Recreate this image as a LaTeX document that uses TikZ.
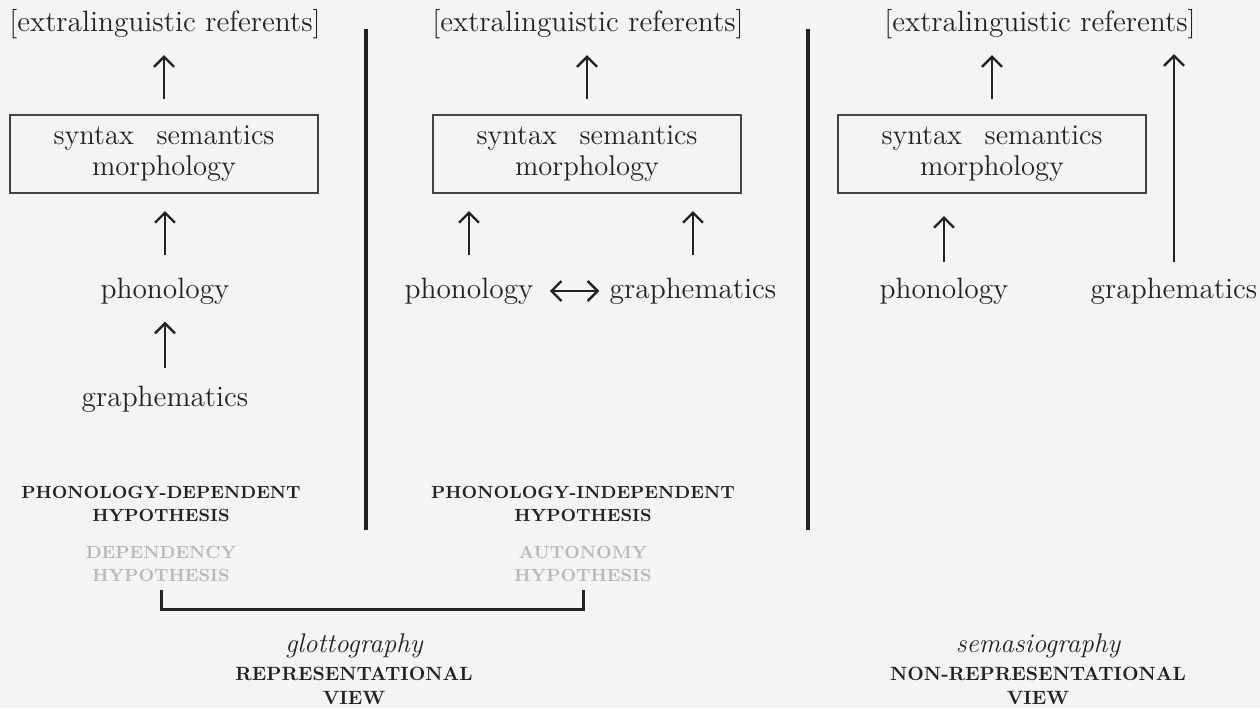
\documentclass[tikz,border=0pt]{standalone}
\usepackage{tikz}
\usetikzlibrary{arrows.meta,positioning,calc}
\definecolor{paper}{HTML}{F4F4F4}
\definecolor{ink}{HTML}{222222}

\begin{document}
\begin{tikzpicture}[
        x=0.5pt, y=-0.5pt,
        font=\fontsize{14.7}{15.5}\selectfont,
        % Stili
        term/.style={inner sep=0pt, text=ink, align=center},
        levelbox/.style={rectangle, draw=ink!85, line width=1pt, minimum width=154pt, minimum height=39pt, inner sep=0pt, text=ink, align=center, font=\fontsize{14.3}{15.5}\selectfont},
        hyp/.style={inner sep=0pt, text=ink, align=center, font=\fontsize{8.8}{11.5}\selectfont\bfseries},
        althyp/.style={hyp, text=gray!55},
        view/.style={inner sep=0pt, text=ink, align=center, font=\fontsize{9.6}{12}\selectfont\bfseries},
        viewname/.style={inner sep=0pt, text=ink, font=\fontsize{13.5}{15}\selectfont\itshape},
        uparrow/.style={draw=ink, line width=1.2pt, -{Straight Barb[length=5pt,width=10pt]}, shorten <=8pt, shorten >=8pt},
        bothways/.style={uparrow, {Straight Barb[length=5pt,width=10pt]}-{Straight Barb[length=5pt,width=10pt]}},
        divider/.style={draw=ink, line width=2pt},
        bracket/.style={draw=ink, line width=1.5pt}
    ]

    % Sfondo
    \fill[paper] (0,0) rectangle (1260,708);
    \useasboundingbox (0,0) rectangle (1260,708);

    % Colonna 1: dipendenza
    \node (ref1) [term] at (165,24) {[extralinguistic referents]};
    \node (box1) [levelbox] at (164,154) {syntax\hspace{0.8em}semantics\\morphology};
    \node (phon1) [term] at (165,291) {phonology};
    \node (graph1) [term] at (165,399) {graphematics};

    % Colonna 2: autonomia
    \node (ref2) [term] at (588,24) {[extralinguistic referents]};
    \node (box2) [levelbox] at (587,154) {syntax\hspace{0.8em}semantics\\morphology};
    \node (phon2) [term] at (469,291) {phonology};
    \node (graph2) [term] at (693,291) {graphematics};

    % Colonna 3: semasiografia
    \node (ref3) [term] at (1040,24) {[extralinguistic referents]};
    \node (box3) [levelbox] at (992,154) {syntax\hspace{0.8em}semantics\\morphology};
    \node (phon3) [term] at (944,291) {phonology};
    \node (graph3) [term] at (1174,291) {graphematics};

    % Separatori
    \draw [divider] (366,29) -- (366,530);
    \draw [divider] (808,29) -- (808,530);

    % Ipotesi
    \node (dep) [hyp] at (161,504) {PHONOLOGY-DEPENDENT\\HYPOTHESIS};
    \node (dephyp) [althyp] at (161,564) {DEPENDENCY\\HYPOTHESIS};
    \node (indep) [hyp] at (583,504) {PHONOLOGY-INDEPENDENT\\HYPOTHESIS};
    \node (autohyp) [althyp] at (583,564) {AUTONOMY\\HYPOTHESIS};

    % Viste
    \node (reprview) [view] at (354,686) {REPRESENTATIONAL\\VIEW};
    \node (glotto) [viewname, above=4pt of reprview] {glottography};
    \node (nonreprview) [view] at (1038,686) {NON-REPRESENTATIONAL\\VIEW};
    \node (sema) [viewname, above=4pt of nonreprview] {semasiography};

    % Collegamenti
    \draw [uparrow, shorten <=7.5pt] (box1.north) -- (box1.north |- ref1.south);
    \draw [uparrow, shorten <=11pt, shorten >=8.5pt] (phon1.north) -- (phon1.north |- box1.south);
    \draw [uparrow, shorten <=8.5pt, shorten >=8.5pt] (graph1.north) -- (phon1.south);

    \draw [uparrow, shorten <=7.5pt] (box2.north) -- (box2.north |- ref2.south);
    \draw [uparrow, shorten <=11pt, shorten >=8.5pt] (phon2.north) -- (phon2.north |- box2.south);
    \draw [uparrow, shorten <=11pt, shorten >=8.5pt] (graph2.north) -- (graph2.north |- box2.south);
    \draw [bothways, shorten <=8pt, shorten >=5pt] (phon2) -- (graph2);

    \draw [uparrow, shorten <=7.5pt] (box3.north) -- (box3.north |- ref3.south);
    \draw [uparrow, shorten <=7.5pt, shorten >=11pt] (phon3.north) -- (phon3.north |- box3.south);
    \draw [uparrow, shorten <=7.5pt, shorten >=7.5pt] (graph3.north) -- (graph3.north |- ref3.south);

    % Parentesi glottografia
    \draw [bracket] ([yshift=-4pt]dephyp.south) -- ++(0,19) -| ([yshift=-4pt]autohyp.south);

\end{tikzpicture}
\end{document}
